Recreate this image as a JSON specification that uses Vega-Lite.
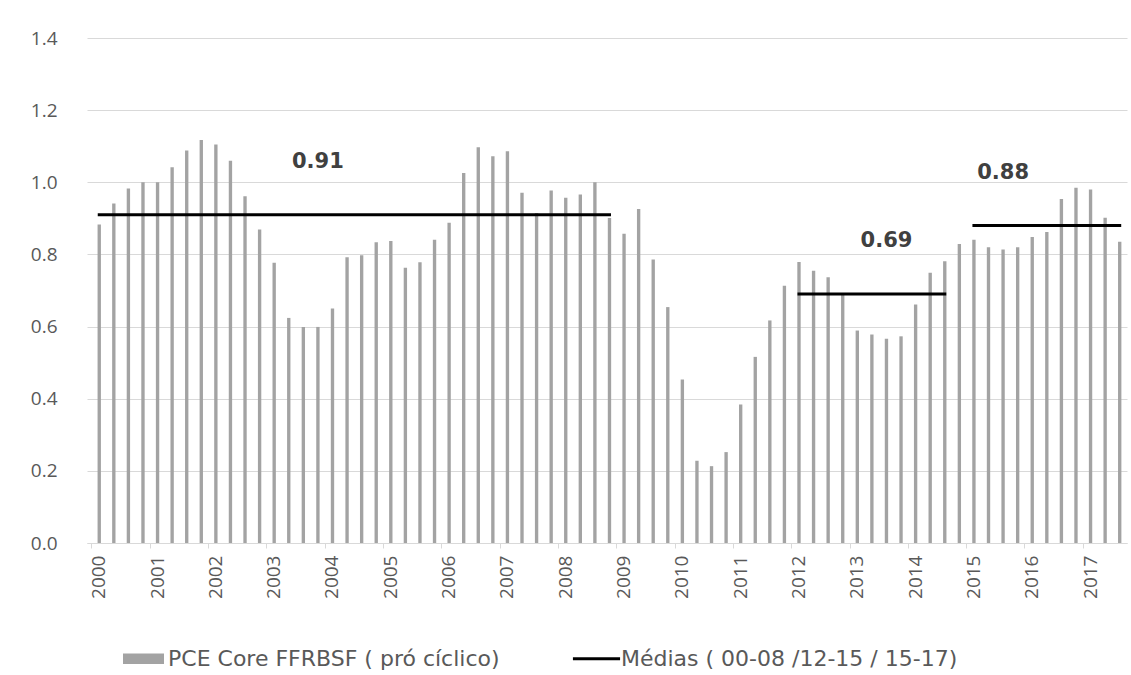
{
  "$schema": "https://vega.github.io/schema/vega-lite/v6.json",
  "width": 1040,
  "height": 505,
  "autosize": "none",
  "padding": {"left": 87, "top": 38, "right": 4, "bottom": 132},
  "background": "white",
  "config": {"view": {"stroke": null}},
  "datasets": {
    "pce": [
      {"q":"2000Q1","v":0.883},{"q":"2000Q2","v":0.941},{"q":"2000Q3","v":0.983},{"q":"2000Q4","v":1.000},
      {"q":"2001Q1","v":1.000},{"q":"2001Q2","v":1.042},{"q":"2001Q3","v":1.088},{"q":"2001Q4","v":1.117},
      {"q":"2002Q1","v":1.105},{"q":"2002Q2","v":1.060},{"q":"2002Q3","v":0.961},{"q":"2002Q4","v":0.869},
      {"q":"2003Q1","v":0.777},{"q":"2003Q2","v":0.624},{"q":"2003Q3","v":0.599},{"q":"2003Q4","v":0.599},
      {"q":"2004Q1","v":0.650},{"q":"2004Q2","v":0.792},{"q":"2004Q3","v":0.798},{"q":"2004Q4","v":0.834},
      {"q":"2005Q1","v":0.837},{"q":"2005Q2","v":0.763},{"q":"2005Q3","v":0.778},{"q":"2005Q4","v":0.841},
      {"q":"2006Q1","v":0.888},{"q":"2006Q2","v":1.026},{"q":"2006Q3","v":1.097},{"q":"2006Q4","v":1.072},
      {"q":"2007Q1","v":1.086},{"q":"2007Q2","v":0.971},{"q":"2007Q3","v":0.915},{"q":"2007Q4","v":0.977},
      {"q":"2008Q1","v":0.957},{"q":"2008Q2","v":0.966},{"q":"2008Q3","v":1.000},{"q":"2008Q4","v":0.901},
      {"q":"2009Q1","v":0.857},{"q":"2009Q2","v":0.926},{"q":"2009Q3","v":0.786},{"q":"2009Q4","v":0.654},
      {"q":"2010Q1","v":0.453},{"q":"2010Q2","v":0.228},{"q":"2010Q3","v":0.213},{"q":"2010Q4","v":0.252},
      {"q":"2011Q1","v":0.384},{"q":"2011Q2","v":0.516},{"q":"2011Q3","v":0.617},{"q":"2011Q4","v":0.713},
      {"q":"2012Q1","v":0.779},{"q":"2012Q2","v":0.755},{"q":"2012Q3","v":0.737},{"q":"2012Q4","v":0.689},
      {"q":"2013Q1","v":0.589},{"q":"2013Q2","v":0.578},{"q":"2013Q3","v":0.566},{"q":"2013Q4","v":0.573},
      {"q":"2014Q1","v":0.661},{"q":"2014Q2","v":0.749},{"q":"2014Q3","v":0.781},{"q":"2014Q4","v":0.829},
      {"q":"2015Q1","v":0.841},{"q":"2015Q2","v":0.820},{"q":"2015Q3","v":0.814},{"q":"2015Q4","v":0.820},
      {"q":"2016Q1","v":0.848},{"q":"2016Q2","v":0.862},{"q":"2016Q3","v":0.954},{"q":"2016Q4","v":0.985},
      {"q":"2017Q1","v":0.980},{"q":"2017Q2","v":0.902},{"q":"2017Q3","v":0.835}
    ],
    "medias": [
      {"s":"2000Q1","e":"2008Q4","m":0.91,"lab":"0.91","lq":"2003Q4"},
      {"s":"2012Q1","e":"2014Q3","m":0.69,"lab":"0.69","lq":"2013Q3"},
      {"s":"2015Q1","e":"2017Q3","m":0.88,"lab":"0.88","lq":"2015Q3"}
    ]
  },
  "layer": [
    {
      "data": {"name": "pce"},
      "transform": [{"calculate": "'PCE Core FFRBSF ( pró cíclico)'", "as": "serie"}],
      "mark": {"type": "bar", "width": {"band": 0.23}},
      "encoding": {
        "x": {
          "field": "q", "type": "ordinal",
          "scale": {"paddingInner": 0, "paddingOuter": 0.17, "align": 1},
          "axis": {
            "title": null,
            "values": ["2000Q1","2001Q1","2002Q1","2003Q1","2004Q1","2005Q1","2006Q1","2007Q1","2008Q1","2009Q1","2010Q1","2011Q1","2012Q1","2013Q1","2014Q1","2015Q1","2016Q1","2017Q1"],
            "labelExpr": "substring(datum.value, 0, 4)",
            "bandPosition": 0,
            "labelAngle": -90,
            "labelFont": "Open Sans",
            "labelFontSize": 19,
            "labelColor": "#595959",
            "labelPadding": 7,
            "tickSize": 5,
            "tickColor": "#d9d9d9",
            "domainColor": "#d9d9d9",
            "labelOverlap": false,
            "grid": false
          }
        },
        "y": {
          "field": "v", "type": "quantitative",
          "scale": {"domain": [0, 1.4], "nice": false},
          "axis": {
            "title": null,
            "values": [0, 0.2, 0.4, 0.6, 0.8, 1.0, 1.2, 1.4],
            "format": ".1f",
            "labelFont": "Open Sans",
            "labelFontSize": 19,
            "labelColor": "#595959",
            "labelPadding": 30,
            "ticks": false,
            "domain": false,
            "gridColor": "#d9d9d9",
            "gridWidth": 1
          }
        },
        "color": {
          "field": "serie", "type": "nominal",
          "scale": {
            "domain": ["PCE Core FFRBSF ( pró cíclico)", "Médias ( 00-08 /12-15 / 15-17)"],
            "range": ["#a3a3a3", "#000000"]
          },
          "legend": {
            "title": null,
            "orient": "none",
            "legendX": 36,
            "legendY": 600,
            "direction": "horizontal",
            "padding": 0,
            "symbolSize": 1681,
            "symbolStrokeWidth": 0,
            "labelFont": "DejaVu Sans",
            "labelFontSize": 22,
            "labelLimit": 0,
            "labelColor": "#595959",
            "labelOffset": 4,
            "columnPadding": 72,
            "encode": {
              "symbols": {
                "update": {
                  "shape": {"signal": "datum.value === 'PCE Core FFRBSF ( pró cíclico)' ? 'M-1,-0.26H1V0.26H-1Z' : 'M-1.15,-0.075H1.15V0.075H-1.15Z'"},
                  "fill": {"signal": "datum.value === 'PCE Core FFRBSF ( pró cíclico)' ? '#a3a3a3' : '#000000'"},
                  "opacity": {"value": 1}
                }
              }
            }
          }
        }
      }
    },
    {
      "data": {"name": "medias"},
      "transform": [{"calculate": "'Médias ( 00-08 /12-15 / 15-17)'", "as": "serie"}],
      "mark": {"type": "rule", "strokeWidth": 3, "strokeCap": "square"},
      "encoding": {
        "x": {"field": "s", "type": "ordinal"},
        "x2": {"field": "e"},
        "y": {"field": "m", "type": "quantitative"},
        "color": {"field": "serie", "type": "nominal"}
      }
    },
    {
      "data": {"name": "medias"},
      "mark": {"type": "text", "font": "DejaVu Sans", "fontWeight": "bold", "fontSize": 21, "color": "#404040", "dy": -53, "baseline": "middle", "align": "center"},
      "encoding": {
        "x": {"field": "lq", "type": "ordinal"},
        "y": {"field": "m", "type": "quantitative"},
        "text": {"field": "lab"}
      }
    }
  ]
}
